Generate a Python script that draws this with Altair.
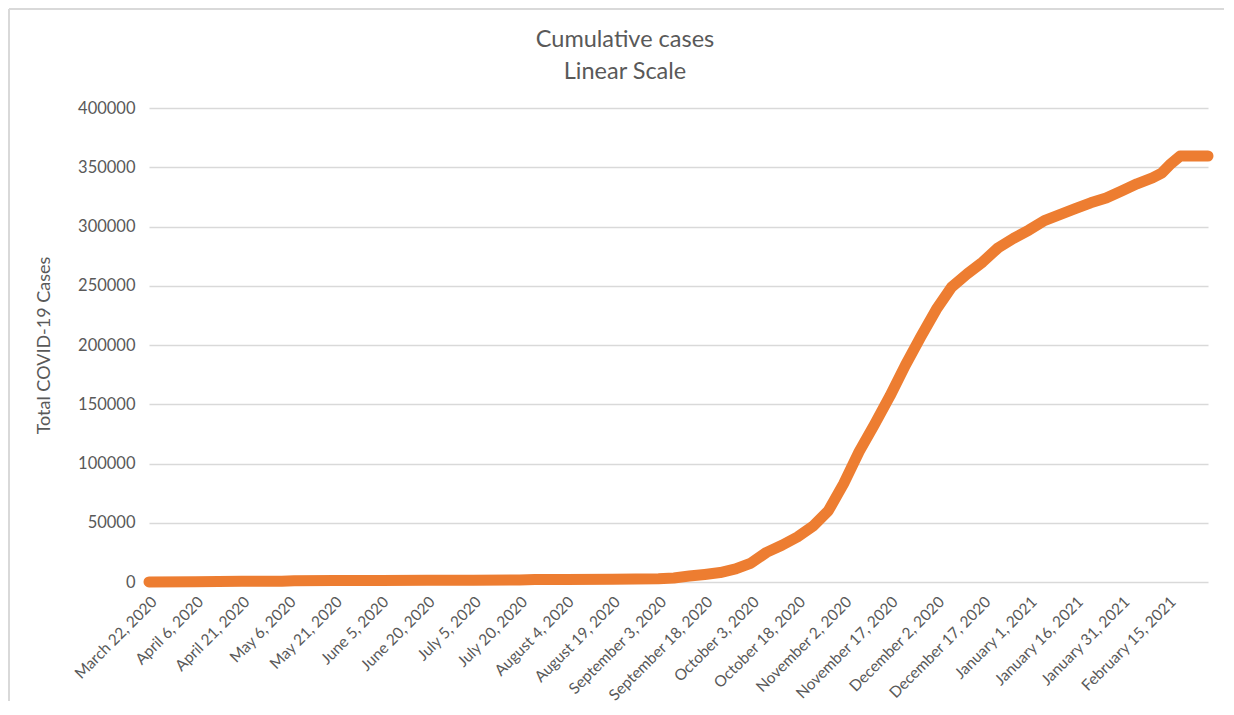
import altair as alt
import pandas as pd

# ---- data ----
dates = [
    "2020-03-22", "2020-04-06", "2020-04-21", "2020-05-04", "2020-05-08",
    "2020-05-21", "2020-06-05", "2020-06-20", "2020-07-05", "2020-07-20",
    "2020-07-25", "2020-08-04", "2020-08-19", "2020-09-03", "2020-09-08",
    "2020-09-13", "2020-09-18", "2020-09-23", "2020-09-28", "2020-10-03",
    "2020-10-08", "2020-10-13", "2020-10-18", "2020-10-23", "2020-10-28",
    "2020-11-02", "2020-11-07", "2020-11-12", "2020-11-17", "2020-11-22",
    "2020-11-27", "2020-12-02", "2020-12-07", "2020-12-12", "2020-12-17",
    "2020-12-22", "2020-12-27", "2021-01-01", "2021-01-06", "2021-01-11",
    "2021-01-16", "2021-01-21", "2021-01-26", "2021-01-31", "2021-02-05",
    "2021-02-10", "2021-02-13", "2021-02-16", "2021-02-19", "2021-02-28",
]
cases = [
    50, 300, 600, 700, 1100,
    1200, 1300, 1400, 1500, 1700,
    2100, 2200, 2400, 2800, 3400,
    5000, 6400, 8000, 11000, 16000,
    25000, 31000, 38000, 47000, 60000,
    83000, 110000, 133000, 157000, 183000,
    207000, 230000, 249000, 260000, 270000,
    282000, 290000, 297000, 305000, 310000,
    315000, 320000, 324000, 330000, 336000,
    341000, 345000, 353000, 359500, 359500,
]
# x tick labels every 15 days (year, month, day)
tick_dates = [
    (2020, 3, 22), (2020, 4, 6), (2020, 4, 21), (2020, 5, 6), (2020, 5, 21),
    (2020, 6, 5), (2020, 6, 20), (2020, 7, 5), (2020, 7, 20), (2020, 8, 4),
    (2020, 8, 19), (2020, 9, 3), (2020, 9, 18), (2020, 10, 3), (2020, 10, 18),
    (2020, 11, 2), (2020, 11, 17), (2020, 12, 2), (2020, 12, 17), (2021, 1, 1),
    (2021, 1, 16), (2021, 1, 31), (2021, 2, 15),
]
y_ticks = [0, 50000, 100000, 150000, 200000, 250000, 300000, 350000, 400000]
x_start = (2020, 3, 22)
x_end = (2021, 2, 28)
title_lines = ["Cumulative cases", "Linear Scale"]

df = pd.DataFrame({"date": dates, "cases": cases})

FONT = "Lato"
GRAY = "#595959"
GRID = "#d9d9d9"
ORANGE = "#ED7D31"


def dt(t):
    return alt.DateTime(year=t[0], month=t[1], date=t[2], utc=True)


x_enc = alt.X(
    "date:T",
    title=None,
    scale=alt.Scale(type="utc", domain=[dt(x_start), dt(x_end)], nice=False),
    axis=alt.Axis(
        values=[dt(t) for t in tick_dates],
        labelExpr="utcFormat(datum.value, '%B %-d, %Y')",
        labelAngle=-45,
        labelAlign="right",
        labelBaseline="top",
        labelPadding=12,
        labelOverlap=False,
        labelFont=FONT,
        labelFontSize=15.5,
        labelColor=GRAY,
        grid=False,
        ticks=False,
        domain=False,
    ),
)
y_enc = alt.Y(
    "cases:Q",
    scale=alt.Scale(domain=[0, 400000], nice=False),
    axis=alt.Axis(
        values=y_ticks,
        format="d",
        title="Total COVID-19 Cases",
        titleFont=FONT,
        titleFontSize=18,
        titleFontWeight="normal",
        titleColor=GRAY,
        titlePadding=24,
        labelFont=FONT,
        labelFontSize=16.5,
        labelColor=GRAY,
        labelPadding=14,
        grid=True,
        gridColor=GRID,
        gridWidth=1.3,
        ticks=False,
        domain=False,
    ),
)

line = alt.Chart(df).mark_line(
    color=ORANGE, strokeWidth=11, strokeCap="round", strokeJoin="round"
).encode(x=x_enc, y=y_enc)

one = pd.DataFrame({"k": [0]})
border_left = alt.Chart(one).mark_rule(color=GRID, strokeWidth=2).encode(
    x=alt.value(-140), y=alt.value(-99), y2=alt.value(593)
)
border_top = alt.Chart(one).mark_rule(color=GRID, strokeWidth=2).encode(
    x=alt.value(-140), x2=alt.value(1075), y=alt.value(-99)
)

title_df = pd.DataFrame({"line": title_lines})
title1 = alt.Chart(title_df).transform_filter(
    alt.datum.line == title_lines[0]
).mark_text(
    font=FONT, fontSize=23.5, color=GRAY, align="center", baseline="alphabetic"
).encode(text="line:N", x=alt.value(476), y=alt.value(-61))
title2 = alt.Chart(title_df).transform_filter(
    alt.datum.line == title_lines[1]
).mark_text(
    font=FONT, fontSize=23.5, color=GRAY, align="center", baseline="alphabetic"
).encode(text="line:N", x=alt.value(476), y=alt.value(-29))

chart = (
    alt.layer(border_left, border_top, title1, title2, line)
    .properties(
        width=1059,
        height=474,
        padding={"left": 0, "top": 0, "right": 0, "bottom": 0},
    )
    .configure_view(stroke=None)
)

chart.save("out.html", embed_options={"renderer": "svg", "actions": False})
